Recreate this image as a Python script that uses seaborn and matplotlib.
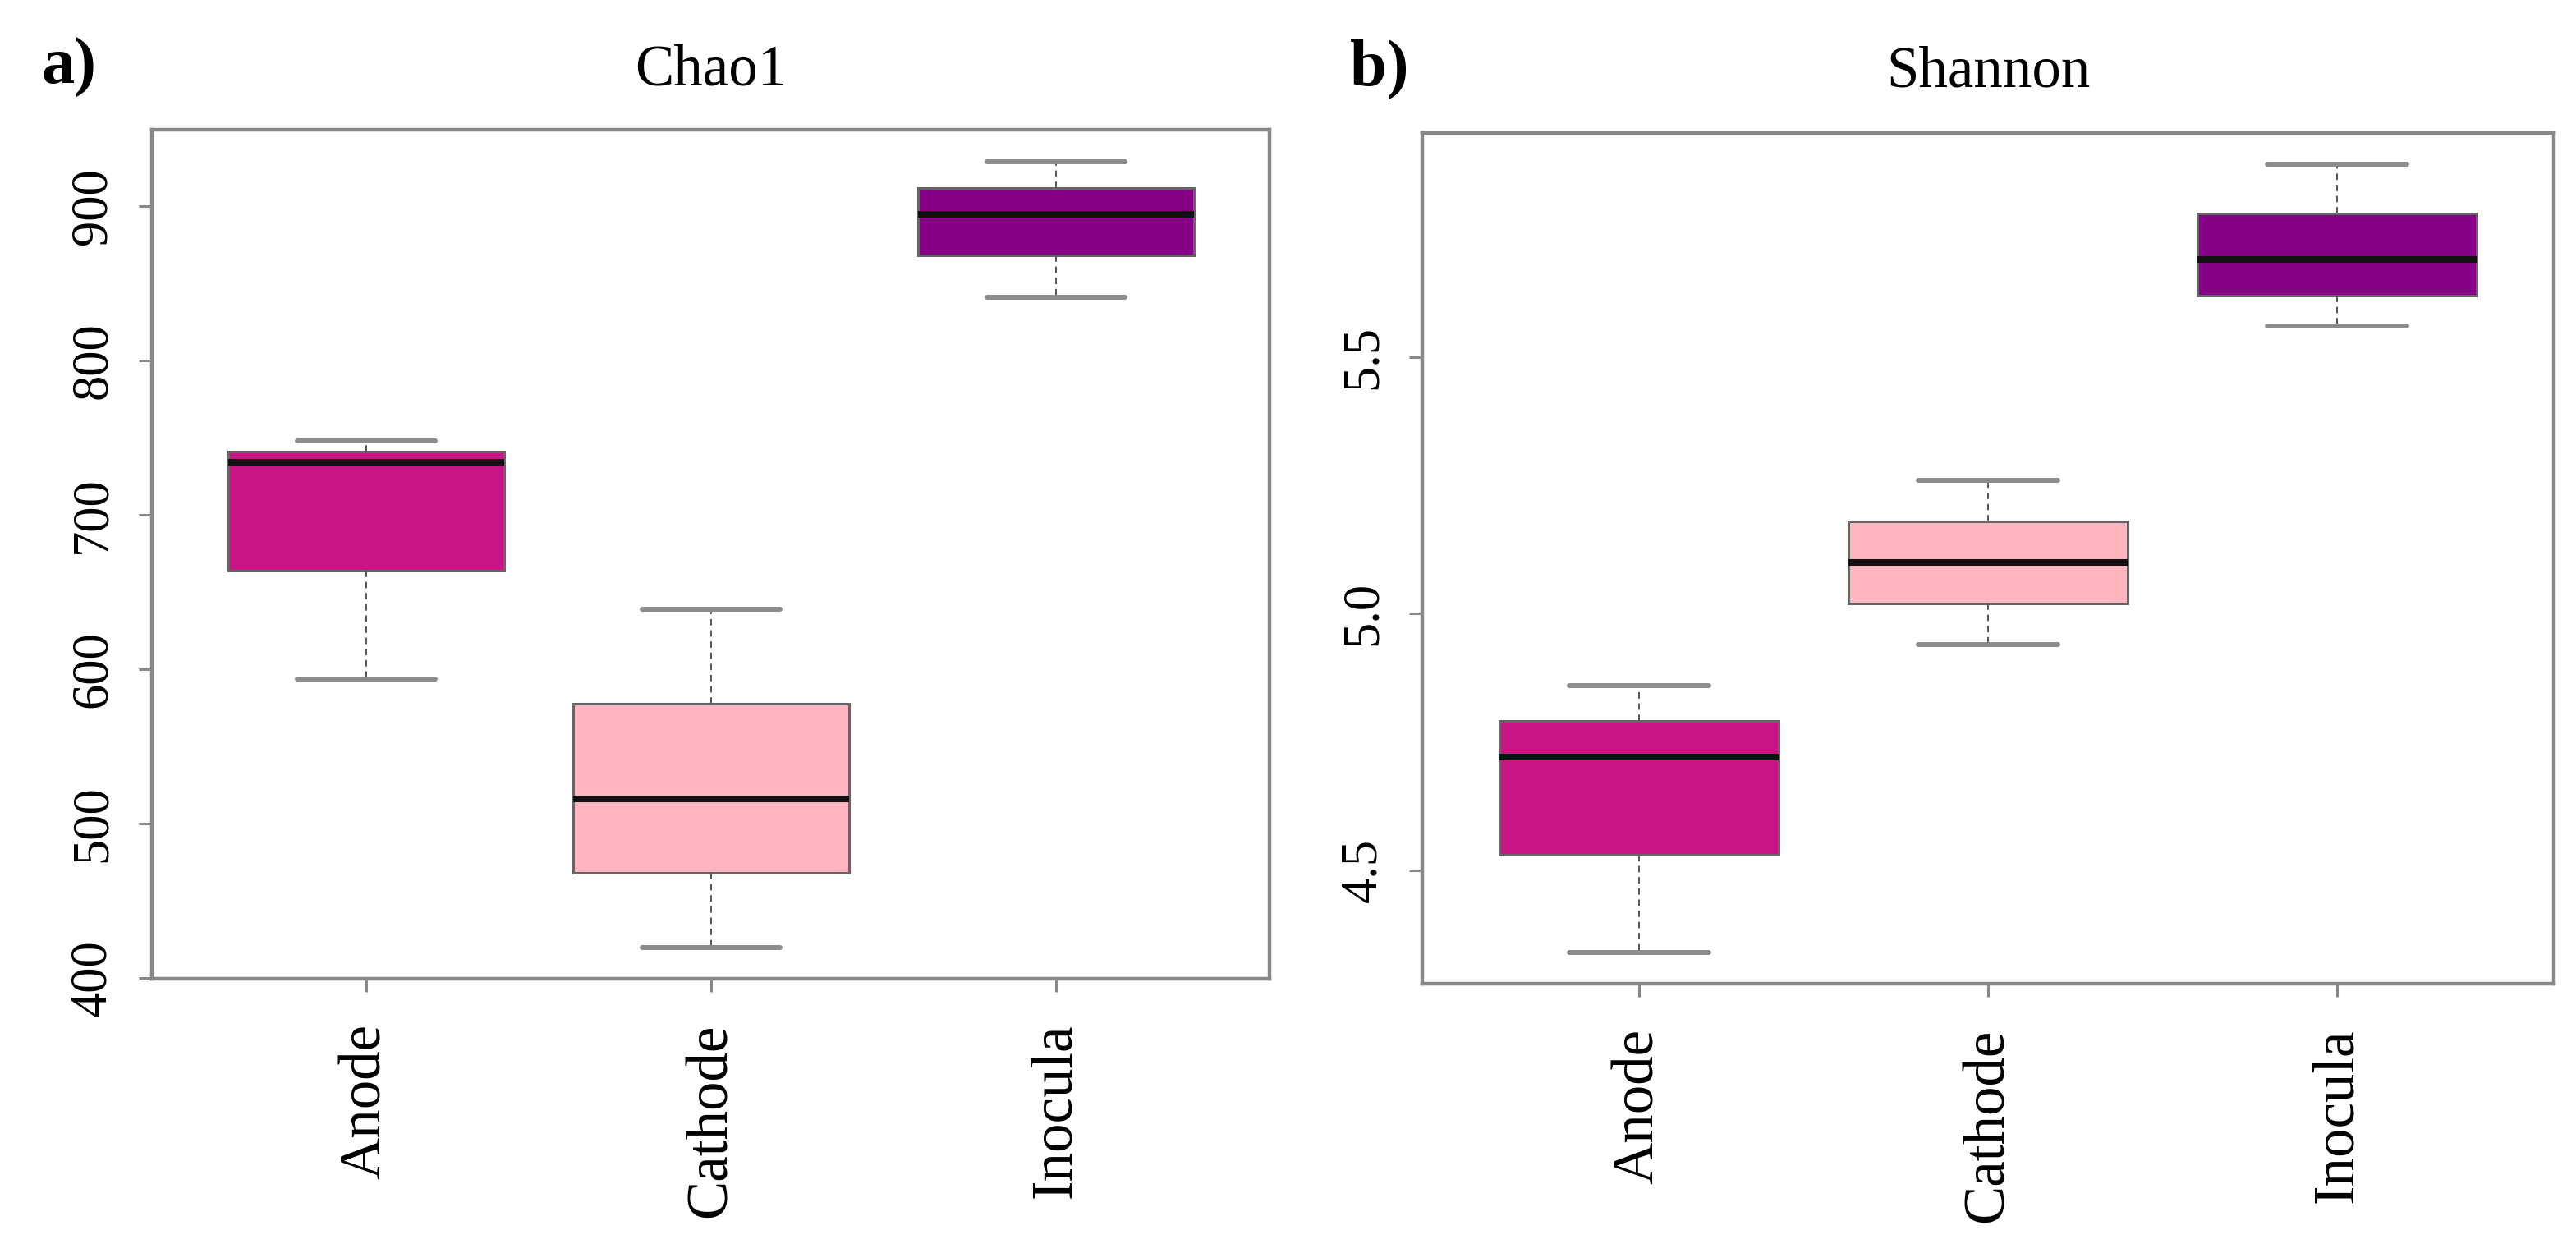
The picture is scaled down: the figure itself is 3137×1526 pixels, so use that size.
import numpy as np
import pandas as pd
import matplotlib
matplotlib.use('Agg')
import matplotlib.pyplot as plt
import seaborn as sns

# five-number summaries: min, q1, median, q3, max
groups = ['Anode', 'Cathode', 'Inocula']
chao1_anode = [594, 664, 734, 741, 748]
chao1_cathode = [420, 468, 516, 578, 639]
chao1_inocula = [841, 868, 895, 912, 929]
shannon_anode = [4.34, 4.53, 4.72, 4.79, 4.86]
shannon_cathode = [4.94, 5.02, 5.10, 5.18, 5.26]
shannon_inocula = [5.56, 5.62, 5.69, 5.78, 5.875]

chao1_ticks = [400, 500, 600, 700, 800, 900]
chao1_labels = ['400', '500', '600', '700', '800', '900']
shannon_ticks = [4.5, 5.0, 5.5]
shannon_labels = ['4.5', '5.0', '5.5']

colors = ['#C71585', '#FFB6C1', '#850085']

sns.set_style('white')
plt.rcParams['font.family'] = ['Liberation Serif', 'DejaVu Serif']
plt.rcParams['text.color'] = 'black'
plt.rcParams['xtick.labelcolor'] = 'black'
plt.rcParams['ytick.labelcolor'] = 'black'


def long_table(samples):
    rows = []
    for g, vals in zip(groups, samples):
        for v in vals:
            rows.append((g, v))
    return pd.DataFrame(rows, columns=['group', 'value'])


def draw(ax, df, title, ticks, ticklabels, pad):
    sns.boxplot(data=df, x='group', y='value', hue='group', order=groups,
                hue_order=groups, palette=colors, saturation=1, width=0.8,
                whis=(0, 100), linecolor='#666666', linewidth=2.2,
                legend=False, ax=ax,
                boxprops=dict(edgecolor='#666666', linewidth=2.2),
                medianprops=dict(color='#111111', linewidth=5.8),
                whiskerprops=dict(color='#555555', linewidth=1.4,
                                  linestyle=(0, (4, 3))),
                capprops=dict(color='#8c8c8c', linewidth=4.3))

    # R style range: data range plus 4% on each side
    vmin, vmax = df['value'].min(), df['value'].max()
    span = vmax - vmin
    ax.set_ylim(vmin - 0.04 * span, vmax + 0.04 * span)
    ax.set_xlim(-0.62, 2.62)

    ax.set_xlabel('')
    ax.set_ylabel('')
    ax.set_title(title, fontsize=51, pad=pad, color='black')

    for s in ax.spines.values():
        s.set_visible(True)
        s.set_color('#888888')
        s.set_linewidth(3.2)

    ax.tick_params(axis='both', direction='out', length=11.5, width=2.2,
                   color='#888888', left=True, bottom=True)
    ax.set_yticks(ticks)
    ax.set_yticklabels(ticklabels, rotation=90, va='center')
    ax.tick_params(axis='y', labelsize=45, pad=19, labelcolor='black')
    ax.tick_params(axis='x', labelsize=51, pad=28, labelrotation=90,
                   labelcolor='black')


fig = plt.figure(figsize=(31.37, 15.26), dpi=100)
ax_a = fig.add_axes([0.0590, 0.2189, 0.4339, 0.6773])
ax_b = fig.add_axes([0.5521, 0.2149, 0.4393, 0.6789])

draw(ax_a, long_table([chao1_anode, chao1_cathode, chao1_inocula]),
     'Chao1', chao1_ticks, chao1_labels, 39.6)
draw(ax_b, long_table([shannon_anode, shannon_cathode, shannon_inocula]),
     'Shannon', shannon_ticks, shannon_labels, 41)

fig.text(50 / 3137, 1 - 102 / 1526, 'a)', fontsize=58, fontweight='bold',
         va='baseline', color='black')
fig.text(1644 / 3137, 1 - 104 / 1526, 'b)', fontsize=58, fontweight='bold',
         va='baseline', color='black')

fig.savefig('out.png', dpi=100)
